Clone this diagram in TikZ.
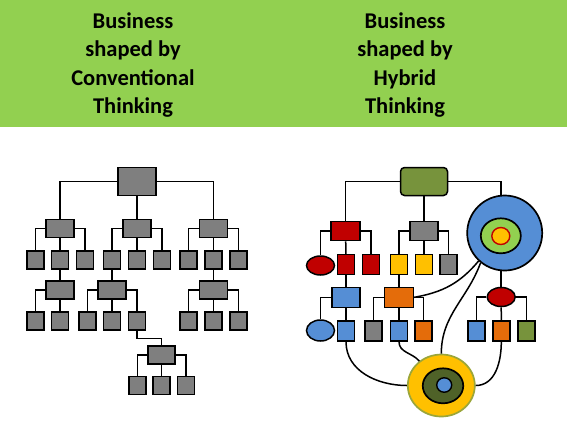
\documentclass[tikz,border=0pt]{standalone}
\usepackage{fontspec}
\setmainfont{Carlito}
\usetikzlibrary{shapes.geometric}

\definecolor{headgreen}{HTML}{92D050}
\definecolor{boxgrey}{HTML}{7F7F7F}
\definecolor{hybgreen}{HTML}{77933C}
\definecolor{hybred}{HTML}{C00000}
\definecolor{hybblue}{HTML}{558ED5}
\definecolor{hyborange}{HTML}{E46C0A}
\definecolor{hybyellow}{HTML}{FFC000}
\definecolor{hybolive}{HTML}{4F6228}
\definecolor{rimolive}{HTML}{9BA63A}

\begin{document}
\begin{tikzpicture}[x=1pt,y=1pt]

    \tikzset{
      box/.style={
        draw,
        line width=1.5pt,
        inner sep=0pt,
        minimum width=28pt,
        minimum height=18pt,
      },
      leaf/.style={
        box,
        minimum width=17pt,
        minimum height=18pt,
      },
      hleaf/.style={
        leaf,
        minimum height=20pt,
      },
      blob/.style={
        draw,
        ellipse,
        line width=1.5pt,
        inner sep=0pt,
      },
      link/.style={
        line width=1.5pt,
      },
      headline/.style={
        align=center,
        font=\fontsize{22.5}{28.6}\selectfont\bfseries,
      },
    }

	\useasboundingbox (0,0) rectangle (567,-424);
	\fill[color={headgreen}] (0,0) rectangle (567,-127);
	\node[headline] (headleft) at (133,-65) {Business\\shaped by\\Conventional\\Thinking};
	\node[headline] (headright) at (405,-65) {Business\\shaped by\\Hybrid\\Thinking};

	\node[box,fill=boxgrey,minimum width=38pt,minimum height=28pt] (c0) at (137,-181.5) {};
	\node[box,fill=boxgrey] (c1) at (60,-228.3) {};
	\node[box,fill=boxgrey] (c2) at (137,-228.3) {};
	\node[box,fill=boxgrey] (c3) at (213.3,-228.3) {};
	\node[leaf,fill=boxgrey] (c1a) at (35.3,-259.8) {};
	\node[leaf,fill=boxgrey] (c1b) at (60,-259.8) {};
	\node[leaf,fill=boxgrey] (c1c) at (85,-259.8) {};
	\node[leaf,fill=boxgrey] (c2a) at (112,-259.8) {};
	\node[leaf,fill=boxgrey] (c2b) at (137,-259.8) {};
	\node[leaf,fill=boxgrey] (c2c) at (162,-259.8) {};
	\node[leaf,fill=boxgrey] (c3a) at (188.3,-259.8) {};
	\node[leaf,fill=boxgrey] (c3b) at (213.3,-259.8) {};
	\node[leaf,fill=boxgrey] (c3c) at (238.3,-259.8) {};
	\node[box,fill=boxgrey] (c4) at (60,-290) {};
	\node[box,fill=boxgrey] (c5) at (112,-290) {};
	\node[box,fill=boxgrey] (c7) at (213.3,-290) {};
	\node[leaf,fill=boxgrey] (c4a) at (35.3,-320.8) {};
	\node[leaf,fill=boxgrey] (c4b) at (60,-320.8) {};
	\node[leaf,fill=boxgrey] (c5a) at (87.5,-320.8) {};
	\node[leaf,fill=boxgrey] (c5b) at (112,-320.8) {};
	\node[leaf,fill=boxgrey] (c5c) at (137,-320.8) {};
	\node[leaf,fill=boxgrey] (c7a) at (188.3,-320.8) {};
	\node[leaf,fill=boxgrey] (c7b) at (213.3,-320.8) {};
	\node[leaf,fill=boxgrey] (c7c) at (238.3,-320.8) {};
	\node[box,fill=boxgrey,minimum width=27pt] (c6) at (161.7,-355) {};
	\node[leaf,fill=boxgrey] (c6a) at (137.3,-385.5) {};
	\node[leaf,fill=boxgrey] (c6b) at (161.7,-385.5) {};
	\node[leaf,fill=boxgrey] (c6c) at (186,-385.5) {};

	\draw[link] (c0.west) -| (c1.north);
	\draw[link] (c0.east) -| (c3.north);
	\draw[link] (c0) -- (c2);
	\draw[link] (c1.west) -| (c1a.north);
	\draw[link] (c1.east) -| (c1c.north);
	\draw[link] (c1) -- (c1b);
	\draw[link] (c2.west) -| (c2a.north);
	\draw[link] (c2.east) -| (c2c.north);
	\draw[link] (c2) -- (c2b);
	\draw[link] (c3.west) -| (c3a.north);
	\draw[link] (c3.east) -| (c3c.north);
	\draw[link] (c3) -- (c3b);
	\draw[link] (c1b) -- (c4);
	\draw[link] (c2a) -- (c5);
	\draw[link] (c3b) -- (c7);
	\draw[link] (c4.west) -| (c4a.north);
	\draw[link] (c4) -- (c4b);
	\draw[link] (c5.west) -| (c5a.north);
	\draw[link] (c5.east) -| (c5c.north);
	\draw[link] (c5) -- (c5b);
	\draw[link] (c7.west) -| (c7a.north);
	\draw[link] (c7.east) -| (c7c.north);
	\draw[link] (c7) -- (c7b);
	\draw[link] (c5c.south) -- ++(0,-8) -| (c6.north);
	\draw[link] (c6.west) -| (c6a.north);
	\draw[link] (c6.east) -| (c6c.north);
	\draw[link] (c6) -- (c6b);

	\node[box,fill=hybgreen,rounded corners=4pt,minimum width=47pt,minimum height=28pt] (h0) at (424,-181.5) {};
	\node[blob,fill=hybblue,line width=1.7pt,minimum width=75pt,minimum height=75pt] (big) at (504.7,-233) {};
	\node[blob,fill=headgreen,line width=1.7pt,minimum width=40pt,minimum height=35pt] (bigring) at (500.8,-235.8) {};
	\node[blob,fill=hybyellow,draw=hybred,line width=1.4pt,minimum width=18pt,minimum height=17pt] (bigcore) at (500.8,-236) {};
	\node[box,fill=hybred,minimum width=29pt,minimum height=19pt] (r1) at (345.6,-231) {};
	\node[box,fill=boxgrey,minimum height=19pt] (g1) at (424,-231) {};
	\node[blob,fill=hybred,minimum width=28pt,minimum height=19pt] (re1) at (320.5,-265.5) {};
	\node[hleaf,fill=hybred] (rs1) at (346,-264.7) {};
	\node[hleaf,fill=hybred] (rs2) at (371,-264.7) {};
	\node[hleaf,fill=hybyellow] (ys1) at (399,-264.7) {};
	\node[hleaf,fill=hybyellow] (ys2) at (424,-264.7) {};
	\node[hleaf,fill=boxgrey] (gs1) at (448.7,-264.7) {};
	\node[box,fill=hybblue,minimum height=20pt] (b1) at (346,-297.3) {};
	\node[box,fill=hyborange,minimum width=29pt,minimum height=20pt] (o1) at (399,-297.3) {};
	\node[blob,fill=hybred,minimum width=28pt,minimum height=19pt] (re2) at (501.2,-297) {};
	\node[blob,fill=hybblue,minimum width=28pt,minimum height=21pt] (be1) at (320.5,-330.5) {};
	\node[hleaf,fill=hybblue] (bs1) at (346,-331) {};
	\node[hleaf,fill=boxgrey] (gs2) at (373.7,-331) {};
	\node[hleaf,fill=hybblue] (bs2) at (399,-331) {};
	\node[hleaf,fill=hyborange] (os1) at (423.5,-331) {};
	\node[hleaf,fill=hybblue] (bs3) at (476.3,-331) {};
	\node[hleaf,fill=hyborange] (os2) at (501.3,-331) {};
	\node[hleaf,fill=hybgreen] (gs3) at (526.3,-331) {};
	\node[blob,fill=hybyellow,draw=rimolive,line width=1.7pt,minimum width=67pt,minimum height=62pt] (yc) at (441.3,-385.5) {};
	\node[blob,fill=hybolive,line width=1.7pt,minimum width=40.5pt,minimum height=35pt] (ycring) at (443,-385.8) {};
	\node[blob,fill=hybblue,line width=1.4pt,minimum width=15pt,minimum height=14.5pt] (yccore) at (444.2,-385) {};

	\draw[link] (h0.west) -| (r1.north);
	\draw[link] (h0.east) -| (re2.north |- big.north);
	\draw[link] (h0) -- (g1);
	\draw[link] (r1.west) -| (re1.north);
	\draw[link] (r1.east) -| (rs2.north);
	\draw[link] (r1) -- (rs1);
	\draw[link] (g1.west) -| (ys1.north);
	\draw[link] (g1.east) -| (gs1.north);
	\draw[link] (g1) -- (ys2);
	\draw[link] (rs1) -- (b1);
	\draw[link] (ys1) -- (o1);
	\draw[link] (re2.north |- big.south) -- (re2.north);
	\draw[link] (b1.west) -| (be1.north);
	\draw[link] (b1) -- (bs1);
	\draw[link] (o1.west) -| (gs2.north);
	\draw[link] (o1.east) -| (os1.north);
	\draw[link] (o1) -- (bs2);
	\draw[link] (re2.west) -| (bs3.north);
	\draw[link] (re2.east) -| (gs3.north);
	\draw[link] (re2) -- (os2);
	\draw[link] (bs1.south) to[out=-90,in=180] (yc.west);
	\draw[link] (bs2.south) to[out=-90,in=130] (yc.132);
	\draw[link] (o1.east) to[out=10,in=230] (big.227);
	\draw[link] (big.231) to[out=250,in=90] (yc.north);
	\draw[link] (os2.south) to[out=-90,in=0] (yc.east);

\end{tikzpicture}
\end{document}
